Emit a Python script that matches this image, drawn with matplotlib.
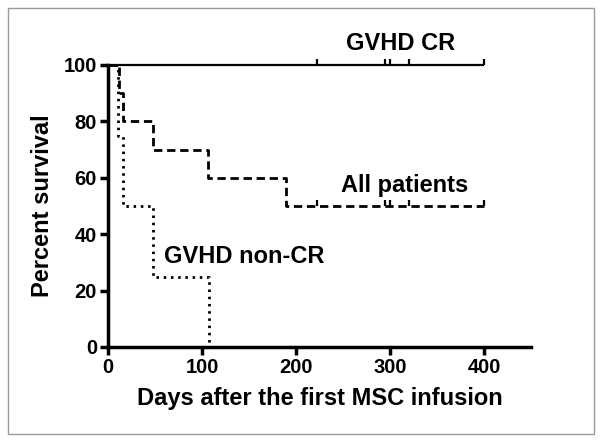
import matplotlib
matplotlib.use("Agg")
import matplotlib.pyplot as plt
from matplotlib.path import Path
from matplotlib.patches import Rectangle

# Data (Kaplan-Meier curves)
all_times = [0, 12, 16, 48, 106, 189, 400]
all_surv = [100, 90, 80, 70, 60, 50, 50]
noncr_times = [0, 11, 16, 48, 107]
noncr_surv = [100, 75, 50, 25, 0]
cr_times = [0, 400]
cr_surv = [100, 100]
censor_times = [222, 295, 300, 320, 400]
cr_censor_surv = [100, 100, 100, 100, 100]
all_censor_surv = [50, 50, 50, 50, 50]

xticks = [0, 100, 200, 300, 400]
yticks = [0, 20, 40, 60, 80, 100]

plt.rcParams['font.family'] = ['Liberation Sans', 'DejaVu Sans']
plt.rcParams['font.weight'] = 'bold'

fig = plt.figure(figsize=(6.02, 4.42), dpi=100)
fig.patches.append(Rectangle((8/602, 1-434/442), 586/602, 426/442, transform=fig.transFigure,
                             fill=False, edgecolor='#9a9a9a', linewidth=1))
ax = fig.add_axes([108/602, 1-347/442, (531-108)/602, (347-65)/442])

tick_up = Path([(0, 0), (0, 1)])

ax.plot(cr_times, cr_surv, color='black', lw=1.6, drawstyle='steps-post', solid_capstyle='butt')
ax.plot(all_times, all_surv, color='black', lw=2, drawstyle='steps-post', dashes=(3, 1.7))
ax.plot(noncr_times, noncr_surv, color='black', lw=2, drawstyle='steps-post', dashes=(0.9, 1.7))
ax.plot(censor_times, cr_censor_surv, linestyle='none', marker=tick_up, markersize=9,
        markeredgewidth=1.6, color='black')
ax.plot(censor_times, all_censor_surv, linestyle='none', marker=tick_up, markersize=9,
        markeredgewidth=1.6, color='black')

ax.text(311, 107.5, 'GVHD CR', ha='center', va='center', fontsize=17, fontweight='bold')
ax.text(316, 57.4, 'All patients', ha='center', va='center', fontsize=17, fontweight='bold')
ax.text(145, 32, 'GVHD non-CR', ha='center', va='center', fontsize=17, fontweight='bold')

ax.set_xlim(0, 450)
ax.set_ylim(0, 100)
ax.set_xticks(xticks)
ax.set_yticks(yticks)
ax.spines['top'].set_visible(False)
ax.spines['right'].set_visible(False)
for s in ('left', 'bottom'):
    ax.spines[s].set_linewidth(2.5)
ax.tick_params(width=2.5, length=6, labelsize=14.5, direction='out', pad=2)
for lab in ax.get_xticklabels() + ax.get_yticklabels():
    lab.set_fontweight('bold')
ax.set_xlabel('Days after the first MSC infusion', fontsize=17, fontweight='bold', labelpad=7)
ax.set_ylabel('Percent survival', fontsize=17, fontweight='bold', labelpad=7)
for l in ax.lines:
    l.set_clip_on(False)

fig.savefig('out.png', dpi=100)
